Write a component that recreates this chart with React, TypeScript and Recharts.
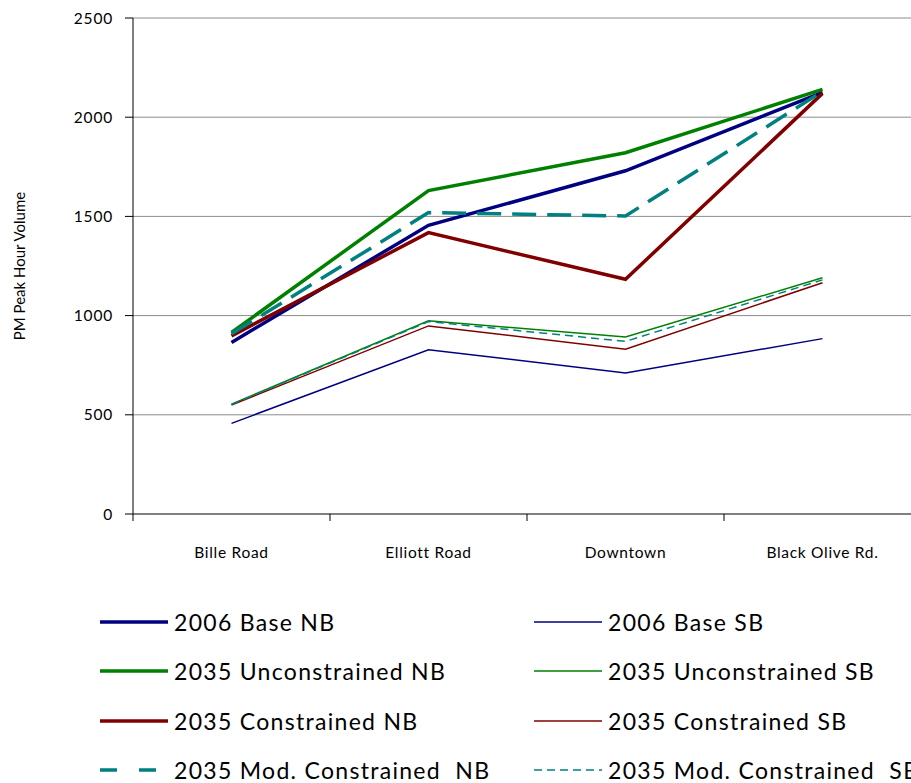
import { LineChart, Line, XAxis, YAxis, CartesianGrid } from "recharts";

const categories = ["Bille Road", "Elliott Road", "Downtown", "Black Olive Rd."];
const base2006NB = [865, 1455, 1730, 2125];
const base2006SB = [457, 828, 711, 884];
const unconNB = [915, 1630, 1821, 2140];
const unconSB = [554, 974, 892, 1191];
const conNB = [898, 1418, 1183, 2120];
const conSB = [549, 948, 830, 1166];
const modNB = [908, 1519, 1502, 2130];
const modSB = [552, 970, 870, 1180];
const yTicks = [0, 500, 1000, 1500, 2000, 2500];

const FONT = "Lato, 'Open Sans', sans-serif";

// legend order = row-major, two columns
const series = [
  { key: "b06nb", name: "2006 Base NB", values: base2006NB, color: "#000080", width: 3.5, dash: undefined },
  { key: "b06sb", name: "2006 Base SB", values: base2006SB, color: "#000080", width: 1.5, dash: undefined },
  { key: "unnb", name: "2035 Unconstrained NB", values: unconNB, color: "#008000", width: 3.5, dash: undefined },
  { key: "unsb", name: "2035 Unconstrained SB", values: unconSB, color: "#008000", width: 1.5, dash: undefined },
  { key: "conb", name: "2035 Constrained NB", values: conNB, color: "#800000", width: 3.5, dash: undefined },
  { key: "cosb", name: "2035 Constrained SB", values: conSB, color: "#800000", width: 1.5, dash: undefined },
  { key: "monb", name: "2035 Mod. Constrained  NB", values: modNB, color: "#008080", width: 3.5, dash: "24 11" },
  { key: "mosb", name: "2035 Mod. Constrained  SB", values: modSB, color: "#008080", width: 1.5, dash: "8 5" },
];

const data = categories.map((cat, i) => {
  const row: Record<string, string | number> = { cat };
  series.forEach((s) => (row[s.key] = s.values[i]));
  return row;
});

const BAND = 197;

function CatTick(props: any) {
  const { x, y, payload } = props;
  return (
    <g>
      <line x1={x - BAND / 2} x2={x - BAND / 2} y1={y} y2={y + 7} stroke="#000" />
      <text x={x} y={y + 44} textAnchor="middle" fontSize={15.5} letterSpacing={0.7} fontFamily={FONT} fill="#000">
        {payload.value}
      </text>
    </g>
  );
}

export default function App() {
  return (
    <div style={{ position: "absolute", left: 0, top: 0, width: 911, height: 783, overflow: "hidden", background: "#fff" }}>
      <LineChart width={925} height={560} data={data} margin={{ top: 18, right: 4, bottom: 0, left: 0 }}>
        <CartesianGrid vertical={false} stroke="#8c8c8c" horizontalValues={[500, 1000, 1500, 2000, 2500]} />
        <XAxis
          dataKey="cat"
          height={46}
          padding={{ left: BAND / 2, right: BAND / 2 }}
          axisLine={{ stroke: "#000" }}
          tickLine={false}
          tickSize={0}
          tickMargin={0}
          tick={<CatTick />}
          interval={0}
        />
        <YAxis
          width={133}
          domain={[0, 2500]}
          ticks={yTicks}
          axisLine={{ stroke: "#000" }}
          tickLine={{ stroke: "#000" }}
          tickSize={8}
          tickMargin={12}
          tick={{ fontSize: 15.5, fontFamily: FONT, fill: "#000", letterSpacing: 0.8 }}
          label={{
            value: "PM Peak Hour Volume",
            angle: -90,
            position: "insideLeft",
            offset: 20,
            style: { textAnchor: "middle", fontSize: 15, fontFamily: FONT, fill: "#000" },
          }}
        />
        {series.map((s) => (
          <Line
            key={s.key}
            dataKey={s.key}
            name={s.name}
            stroke={s.color}
            strokeWidth={s.width}
            strokeDasharray={s.dash}
            dot={false}
            activeDot={false}
            type="linear"
            isAnimationActive={false}
          />
        ))}
      </LineChart>
      {series.map((s, i) => {
        const col = i % 2;
        const row = Math.floor(i / 2);
        const left = col === 0 ? 99 : 533;
        const cy = 622 + row * 49.3;
        return (
          <div
            key={s.key}
            style={{ position: "absolute", left, top: cy - 16, height: 32, display: "flex", alignItems: "center", whiteSpace: "pre" }}
          >
            <svg width={70} height={32} style={{ display: "block" }}>
              <line x1={1} x2={69} y1={16} y2={16} stroke={s.color} strokeWidth={s.width} strokeDasharray={s.dash ? (s.width > 2 ? "17 22" : "8 5") : undefined} />
            </svg>
            <span style={{ marginLeft: 5, fontSize: 23, letterSpacing: 1.3, fontFamily: FONT, color: "#000" }}>{s.name}</span>
          </div>
        );
      })}
    </div>
  );
}
